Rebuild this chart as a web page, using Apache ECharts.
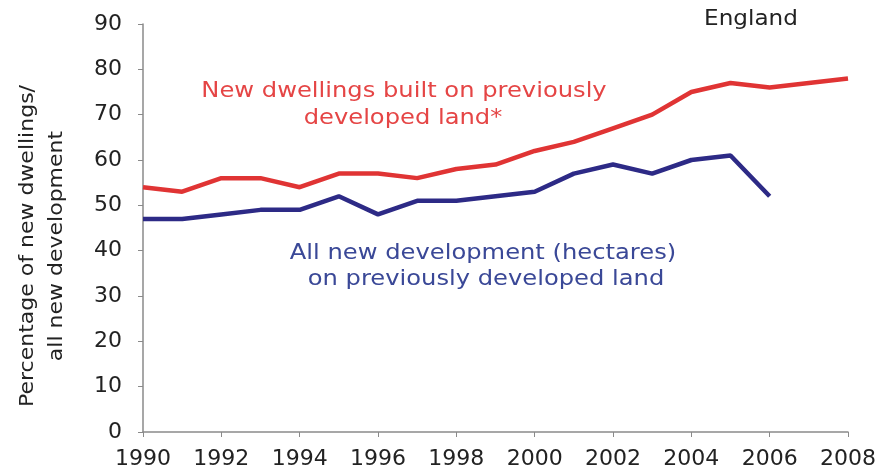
<!DOCTYPE html>
<html>
<head>
<meta charset="utf-8">
<script src="https://cdn.jsdelivr.net/npm/echarts@6/dist/echarts.min.js"></script>
<style>
  html, body { margin: 0; padding: 0; background: #fff; }
  #chart { width: 882px; height: 474px; }
</style>
</head>
<body>
<div id="chart"></div>
<script>
// Share of new building on previously developed land, England
const years = [1990, 1991, 1992, 1993, 1994, 1995, 1996, 1997, 1998, 1999,
               2000, 2001, 2002, 2003, 2004, 2005, 2006, 2007, 2008];
const dwellings = [54, 53, 56, 56, 54, 57, 57, 56, 58, 59,
                   62, 64, 67, 70, 75, 77, 76, 77, 78];
const development = [47, 47, 48, 49, 49, 52, 48, 51, 51, 52,
                     53, 57, 59, 57, 60, 61, 52];
const yTicks = [0, 10, 20, 30, 40, 50, 60, 70, 80, 90];
const xTicks = [1990, 1992, 1994, 1996, 1998, 2000, 2002, 2004, 2006, 2008];

const FONT = 'DejaVu Sans';
const RED = '#e03434';
const BLUE = '#2d2a86';
const RED_TEXT = '#e54545';
const BLUE_TEXT = '#3a4897';
const WIDE = 1.1; // horizontal stretch applied to free-standing text

const chart = echarts.init(document.getElementById('chart'), null, { renderer: 'canvas' });

const pairs = (xs, ys) => ys.map((v, i) => [xs[i], v]);

function label(text, x, y, color, size, rot) {
  return {
    type: 'text', x: x, y: y, rotation: rot || 0, scaleX: WIDE,
    style: { text: text, fill: color, font: size + 'px "DejaVu Sans"',
             textAlign: 'center', textVerticalAlign: 'middle' }
  };
}

chart.setOption({
  animation: false,
  backgroundColor: '#ffffff',
  grid: { left: 143, right: 34, top: 24, bottom: 42, containLabel: false },
  xAxis: {
    type: 'value',
    min: xTicks[0],
    max: xTicks[xTicks.length - 1],
    interval: 2,
    axisLine: { lineStyle: { color: '#8a8a8a', width: 1.5 } },
    axisTick: { show: true, length: 5, lineStyle: { color: '#8a8a8a' } },
    splitLine: { show: false },
    axisLabel: {
      color: '#222', fontFamily: FONT, fontSize: 22, margin: 16,
      formatter: v => String(v)
    }
  },
  yAxis: {
    type: 'value',
    min: yTicks[0],
    max: yTicks[yTicks.length - 1],
    interval: 10,
    axisLine: { show: true, lineStyle: { color: '#8a8a8a', width: 1.5 } },
    axisTick: { show: true, length: 5, lineStyle: { color: '#8a8a8a' } },
    splitLine: { show: false },
    axisLabel: { color: '#222', fontFamily: FONT, fontSize: 22, margin: 21 }
  },
  series: [
    {
      type: 'line',
      name: 'New dwellings built on previously developed land*',
      data: pairs(years, dwellings),
      showSymbol: false,
      lineStyle: { color: RED, width: 4.5 },
      itemStyle: { color: RED }
    },
    {
      type: 'line',
      name: 'All new development (hectares) on previously developed land',
      data: pairs(years, development),
      showSymbol: false,
      lineStyle: { color: BLUE, width: 4.5 },
      itemStyle: { color: BLUE }
    }
  ],
  graphic: [
    label('England', 751, 20, '#222', 21),
    label('New dwellings built on previously', 404, 91, RED_TEXT, 22),
    label('developed land*', 403, 118, RED_TEXT, 22),
    label('All new development (hectares)', 483, 253, BLUE_TEXT, 22),
    label('on previously developed land', 486, 279, BLUE_TEXT, 22),
    label('Percentage of new dwellings/', 28, 246, '#222', 20, Math.PI / 2),
    label('all new development', 57, 246, '#222', 20, Math.PI / 2)
  ]
});
</script>
</body>
</html>
